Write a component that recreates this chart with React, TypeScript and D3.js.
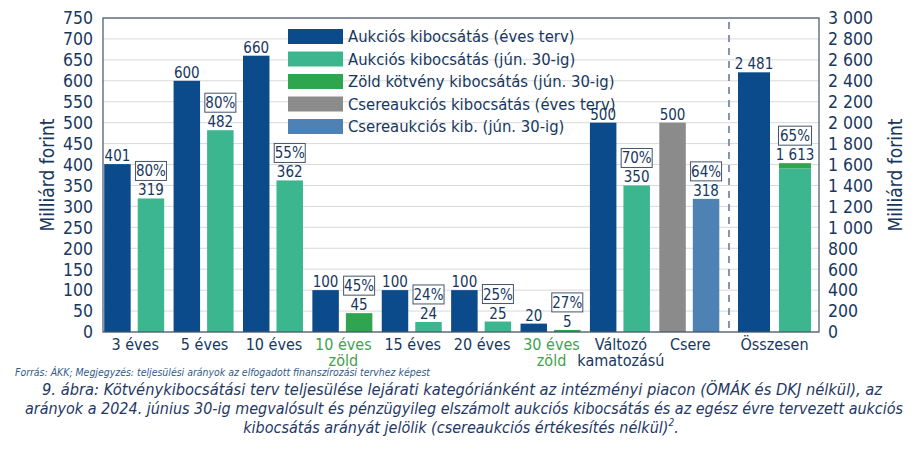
import React from "react";
import * as d3 from "d3";

const categories = ["3 éves", "5 éves", "10 éves", "10 éves zöld", "15 éves", "20 éves", "30 éves zöld", "Változó kamatozású", "Csere"];
const categoryLines = [["3 éves"], ["5 éves"], ["10 éves"], ["10 éves", "zöld"], ["15 éves"], ["20 éves"], ["30 éves", "zöld"], ["Változó", "kamatozású"], ["Csere"]];
const planValues = [401, 600, 660, 100, 100, 100, 20, 500, 500];
const actualValues = [319, 482, 362, 45, 24, 25, 5, 350, 318];
const percentLabels = ["80%", "80%", "55%", "45%", "24%", "25%", "27%", "70%", "64%"];
const categoryKinds = ["auction", "auction", "auction", "green", "auction", "auction", "green", "auction", "swap"];

const totalLabel = "Összesen";
const totalPlan = 2481;
const totalActual = 1613;
const totalGreen = 50;
const totalPercent = "65%";

const legendLabels = [
  "Aukciós kibocsátás (éves terv)",
  "Aukciós kibocsátás (jún. 30-ig)",
  "Zöld kötvény kibocsátás (jún. 30-ig)",
  "Csereaukciós kibocsátás (éves terv)",
  "Csereaukciós kib. (jún. 30-ig)",
];

const sourceText = "Forrás: ÁKK; Megjegyzés: teljesülési arányok az elfogadott finanszírozási tervhez képest";
const captionLines = [
  "9. ábra: Kötvénykibocsátási terv teljesülése lejárati kategóriánként az intézményi piacon (ÖMÁK és DKJ nélkül), az",
  "arányok a 2024. június 30-ig megvalósult és pénzügyileg elszámolt aukciós kibocsátás és az egész évre tervezett aukciós",
  "kibocsátás arányát jelölik (csereaukciós értékesítés nélkül)",
];

const C = {
  navy: "#0b4a8b",
  mint: "#3bb68e",
  green: "#2fa54f",
  gray: "#8b8b8b",
  steel: "#4f82b4",
  text: "#17375e",
  greenText: "#3fa34d",
  grid: "#d9d9d9",
  frame: "#44546a",
  dash: "#8496b0",
};
const legendColors = [C.navy, C.mint, C.green, C.gray, C.steel];

const FONT = "'DejaVu Sans Condensed', 'Liberation Sans', sans-serif";

const W = 923, H = 450;
const plot = { left: 103, right: 819, top: 18, bottom: 332 };

export default function App() {
  const yL = d3.scaleLinear().domain([0, 750]).range([plot.bottom, plot.top]);
  const yR = d3.scaleLinear().domain([0, 3000]).range([plot.bottom, plot.top]);
  const x = d3.scaleBand().domain(categories).range([99.5, 724]).padding(0);
  const sub = d3.scaleBand().domain(["plan", "actual"]).range([-30, 30]).paddingInner(0.21);
  const xT = d3.scaleBand().domain([totalLabel]).range([730, 819]).padding(0);
  const subT = d3.scaleBand().domain(["plan", "actual"]).range([-36.5, 36.5]).paddingInner(0.22);
  const fmt = d3.formatLocale({ thousands: " ", grouping: [3], decimal: ",", currency: ["", ""] }).format(",");

  const leftTicks = d3.range(0, 751, 50);
  const rightTicks = d3.range(0, 3001, 200);

  const pctBox = (cx: number, barTop: number, label: string, w: number) => {
    const bottom = barTop - 18;
    return (
      <g>
        <rect x={cx - w / 2} y={bottom - 19} width={w} height={19} fill="white" stroke={C.frame} strokeWidth={1} />
        <text x={cx} y={bottom - 4} textAnchor="middle" fontSize={15} fill={C.text}>{label}</text>
      </g>
    );
  };

  const tc = (xT(totalLabel) as number) + xT.bandwidth() / 2;

  return (
    <svg width={W} height={H} style={{ position: "absolute", left: 0, top: 0, background: "white" }} fontFamily={FONT}>
      <rect x={0} y={0} width={W} height={H} fill="white" />
      {leftTicks.map((t) => (
        <line key={"g" + t} x1={plot.left} x2={plot.right} y1={yL(t)} y2={yL(t)} stroke={C.grid} strokeWidth={1} />
      ))}
      {/* dashed separator */}
      <line x1={729} x2={729} y1={plot.top + 4} y2={plot.bottom} stroke={C.dash} strokeWidth={2} strokeDasharray="7,6" />

      {/* legend */}
      {legendLabels.map((l, i) => (
        <g key={l}>
          <rect x={288} y={29 + i * 22.5} width={55} height={15} fill={legendColors[i]} />
          <text x={348} y={36.5 + i * 22.5} dy="0.36em" fontSize={16.5} fill={C.text}>{l}</text>
        </g>
      ))}

      {/* category bars */}
      {categories.map((c, i) => {
        const cx = (x(c) as number) + x.bandwidth() / 2;
        const kind = categoryKinds[i];
        const planColor = kind === "swap" ? C.gray : C.navy;
        const actColor = kind === "swap" ? C.steel : kind === "green" ? C.green : C.mint;
        const px = cx + (sub("plan") as number);
        const ax = cx + (sub("actual") as number);
        const bw = sub.bandwidth();
        const pTop = yL(planValues[i]);
        const aTop = yL(actualValues[i]);
        return (
          <g key={c}>
            <rect x={px} y={pTop} width={bw} height={plot.bottom - pTop} fill={planColor} />
            <rect x={ax} y={aTop} width={bw} height={plot.bottom - aTop} fill={actColor} />
            <text x={px + bw / 2} y={pTop - 3} textAnchor="middle" fontSize={15} fill={C.text}>{fmt(planValues[i])}</text>
            <text x={ax + bw / 2} y={aTop - 3} textAnchor="middle" fontSize={15} fill={C.text}>{fmt(actualValues[i])}</text>
            {pctBox(ax + bw / 2, aTop, percentLabels[i], percentLabels[i].length > 3 ? 33 : 31)}
            {categoryLines[i].map((ln, j) => (
              <text key={j} x={cx + 1} y={350 + j * 16} textAnchor="middle" fontSize={16}
                fill={kind === "green" ? C.greenText : C.text}>{ln}</text>
            ))}
          </g>
        );
      })}

      {/* total */}
      {(() => {
        const px = tc + (subT("plan") as number);
        const ax = tc + (subT("actual") as number);
        const bw = subT.bandwidth();
        const pTop = yR(totalPlan);
        const aTop = yR(totalActual);
        const gBottom = yR(totalActual - totalGreen);
        return (
          <g>
            <rect x={px} y={pTop} width={bw} height={plot.bottom - pTop} fill={C.navy} />
            <rect x={ax} y={gBottom} width={bw} height={plot.bottom - gBottom} fill={C.mint} />
            <rect x={ax} y={aTop} width={bw} height={gBottom - aTop} fill={C.green} />
            <text x={px + bw / 2} y={pTop - 3} textAnchor="middle" fontSize={15} fill={C.text}>{fmt(totalPlan)}</text>
            <text x={ax + bw / 2} y={aTop - 3} textAnchor="middle" fontSize={15} fill={C.text}>{fmt(totalActual)}</text>
            {pctBox(ax + bw / 2, aTop, totalPercent, 33)}
            <text x={tc} y={350} textAnchor="middle" fontSize={16} fill={C.text}>{totalLabel}</text>
          </g>
        );
      })()}

      {/* frame */}
      <rect x={plot.left} y={plot.top} width={plot.right - plot.left} height={plot.bottom - plot.top} fill="none" stroke={C.frame} strokeWidth={1.2} />

      {/* left axis */}
      {leftTicks.map((t) => (
        <text key={"l" + t} x={93} y={yL(t)} dy="0.36em" textAnchor="end" fontSize={17.5} fill={C.text}>{t}</text>
      ))}
      <text transform={`translate(47,175) rotate(-90)`} textAnchor="middle" dy="0.36em" fontSize={19} fill={C.text}>Milliárd forint</text>

      {/* right axis */}
      {rightTicks.map((t) => (
        <text key={"r" + t} x={828} y={yR(t)} dy="0.36em" textAnchor="start" fontSize={17.5} fill={C.text}>{fmt(t)}</text>
      ))}
      <text transform={`translate(895,175) rotate(-90)`} textAnchor="middle" dy="0.36em" fontSize={19} fill={C.text}>Milliárd forint</text>

      {/* source */}
      <text x={15} y={376} fontSize={10} fontStyle="italic" fill="#2f5a8a" textLength={415} lengthAdjust="spacingAndGlyphs">{sourceText}</text>

      {/* caption */}
      <text x={462} y={395} textAnchor="middle" fontSize={16} fontStyle="italic" fill="#1f3864" textLength={840} lengthAdjust="spacingAndGlyphs">{captionLines[0]}</text>
      <text x={464} y={414} textAnchor="middle" fontSize={16} fontStyle="italic" fill="#1f3864" textLength={878} lengthAdjust="spacingAndGlyphs">{captionLines[1]}</text>
      <text x={461} y={433} textAnchor="middle" fontSize={16} fontStyle="italic" fill="#1f3864">
        {captionLines[2]}
        <tspan fontSize={10} dy={-7}>2</tspan>
        <tspan dy={7}>.</tspan>
      </text>
    </svg>
  );
}
